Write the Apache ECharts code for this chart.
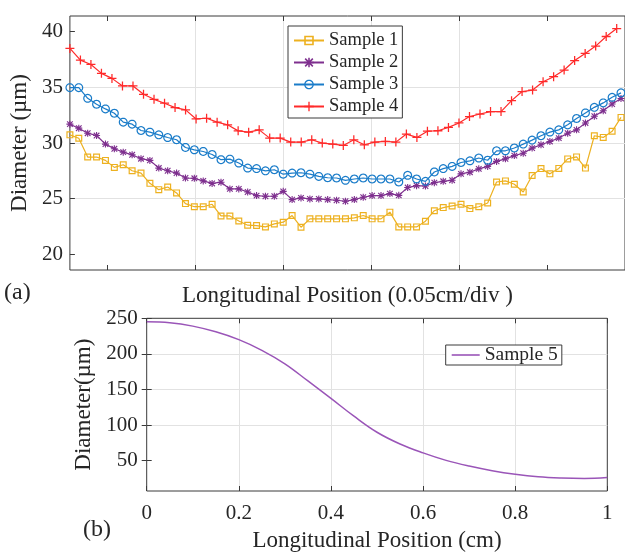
<!DOCTYPE html>
<html><head><meta charset="utf-8">
<script src="https://cdn.jsdelivr.net/npm/echarts@6/dist/echarts.min.js"></script>
<style>html,body{margin:0;padding:0;background:#fff}#c{width:625px;height:553px}</style>
</head><body><div id="c"></div>
<script>
// ---------- data ----------
const seriesNamesA = ['Sample 1', 'Sample 2', 'Sample 3', 'Sample 4'];
const sample1 = [30.73,30.43,28.74,28.74,28.44,27.81,28.05,27.51,27.30,26.38,
  25.81,26.05,25.52,24.56,24.28,24.28,24.50,23.45,23.45,23.00,
  22.62,22.59,22.47,22.74,22.89,23.49,22.44,23.19,23.19,23.19,
  23.19,23.19,23.28,23.49,23.19,23.19,23.79,22.47,22.47,22.47,
  22.98,23.92,24.20,24.35,24.50,24.11,24.28,24.62,26.50,26.60,
  26.30,25.60,27.08,27.70,27.23,27.72,28.57,28.75,27.75,30.65,
  30.50,31.05,32.30];
const sample2 = [31.69,31.33,30.88,30.67,29.90,29.48,29.18,28.94,28.59,28.44,
  27.75,27.51,27.30,26.86,26.83,26.60,26.37,26.48,25.88,25.88,
  25.60,25.28,25.22,25.22,25.66,24.92,25.07,24.98,24.98,24.92,
  24.86,24.77,24.92,25.13,25.28,25.28,25.46,25.30,26.00,26.17,
  26.14,26.44,26.56,26.66,27.23,27.38,27.68,27.90,28.35,28.58,
  28.87,29.08,29.54,29.84,30.14,30.44,30.88,31.18,31.80,32.40,
  32.90,33.50,34.00];
const sample3 = [34.97,34.97,34.01,33.48,33.06,32.67,31.87,31.69,31.12,30.97,
  30.73,30.49,30.29,29.60,29.39,29.24,28.97,28.50,28.55,28.20,
  27.75,27.70,27.50,27.60,27.20,27.30,27.33,27.20,27.00,26.88,
  26.86,26.65,26.77,26.86,26.77,26.77,26.77,26.50,27.10,26.77,
  26.56,27.40,27.70,27.90,28.25,28.40,28.65,28.45,29.30,29.30,
  29.55,29.90,30.26,30.65,30.98,31.18,31.63,32.20,32.70,33.20,
  33.60,34.10,34.50];
const sample4 = [38.49,37.44,37.05,36.25,35.80,35.12,35.12,34.37,33.92,33.57,
  33.18,32.97,32.16,32.22,31.87,31.63,31.09,30.97,31.18,30.44,
  30.44,30.08,30.08,30.29,29.99,29.90,29.78,30.29,29.84,30.08,
  30.14,30.08,30.80,30.50,31.06,31.10,31.40,31.80,32.37,32.60,
  32.82,32.82,33.80,34.62,34.75,35.50,35.95,36.55,37.40,38.04,
  38.70,39.56,40.27];
// sampling step of each series along the (unlabelled) position axis
const step123 = 1.0;
const step4 = 1.183;
const topXTicks = [4.2, 14.1, 24.0, 33.9, 43.8, 53.7];
const topYTicks = [20, 25, 30, 35, 40];

const seriesNameB = 'Sample 5';
const pos5 = [0,0.05,0.1,0.15,0.2,0.25,0.3,0.35,0.4,0.45,0.5,0.55,0.6,0.65,0.7,0.75,0.8,0.85,0.9,0.95,1.0];
const sample5 = [245,243.8,239,231,220,205,186,162,137.5,112.5,90,73.5,61,50.5,42.5,36,31,27.5,25.8,25.2,26.5];
const botYTicks = [50, 100, 150, 200, 250];

// ---------- styles ----------
const serif = "'Liberation Serif','Times New Roman',serif";
const txt = '#262626';
const colors = ['#EDB120', '#7E2F8E', '#1a7cc9', '#ff2a2a'];
const col5 = '#9a55b8';
const gridLine = {show: true, showMinLine: false, showMaxLine: false, lineStyle: {color: '#e2e2e2', width: 1}};

function ringPath(seg, rIn) {
  let s = 'path://';
  for (let i = 0; i <= seg; i++) {
    const a = 2 * Math.PI * i / seg;
    s += (i === 0 ? 'M' : 'L') + (5 + 5 * Math.cos(a)).toFixed(3) + ',' + (5 + 5 * Math.sin(a)).toFixed(3);
  }
  s += 'Z';
  for (let i = 0; i <= seg; i++) {
    const a = -2 * Math.PI * i / seg;
    s += (i === 0 ? 'M' : 'L') + (5 + rIn * Math.cos(a)).toFixed(3) + ',' + (5 + rIn * Math.sin(a)).toFixed(3);
  }
  return s + 'Z';
}
const symCircle = ringPath(24, 3.65);
const symSquare = 'path://M0,0H10V10H0ZM1.7,1.7V8.3H8.3V1.7Z';
const symPlus = 'path://M4.3,0H5.7V4.3H10V5.7H5.7V10H4.3V5.7H0V4.3H4.3Z';
const symAst = 'path://M4.2,0L5.8,0L5.8,10L4.2,10Z M0,4.2L10,4.2L10,5.8L0,5.8Z ' +
  'M1.57,0.43L9.57,8.43L8.43,9.57L0.43,1.57Z M8.43,0.43L9.57,1.57L1.57,9.57L0.43,8.43Z';

function tick(vals) {
  const t = {show: true, inside: true, length: 5, lineStyle: {color: '#3a3a3a', width: 1}};
  if (vals) t.customValues = vals;
  return t;
}
const nameStyle = {fontFamily: serif, fontSize: 23, color: txt};
const labStyle = {fontFamily: serif, fontSize: 21, color: txt};

const topMax = 62.45;

function lineSeries(name, vals, step, sym, size, color) {
  return {
    name, type: 'line', xAxisIndex: 0, yAxisIndex: 0,
    data: vals.map((v, i) => [i * step, v]),
    symbol: sym, symbolSize: size, showAllSymbol: true,
    lineStyle: {color, width: 1.2}, itemStyle: {color},
    emphasis: {disabled: true}, silent: true
  };
}

const option = {
  animation: false,
  backgroundColor: '#fff',
  grid: [
    {left: 69, top: 16, right: -9, bottom: 283, show: true, borderColor: '#3a3a3a', borderWidth: 1, backgroundColor: 'transparent'},
    {left: 146.7, top: 318.3, right: 17.7, bottom: 57, show: true, borderColor: '#3a3a3a', borderWidth: 1, backgroundColor: 'transparent'}
  ],
  xAxis: [
    {type: 'value', gridIndex: 0, min: 0, max: topMax, axisLine: {show: false},
     axisTick: tick(topXTicks), axisLabel: {show: false}, splitLine: gridLine,
     name: 'Longitudinal Position (0.05cm/div )', nameLocation: 'middle', nameGap: 14,
     nameTextStyle: nameStyle},
    {type: 'value', gridIndex: 0, position: 'top', min: 0, max: topMax, axisLine: {show: false},
     axisTick: tick(topXTicks), axisLabel: {show: false}, splitLine: {show: false}},
    {type: 'value', gridIndex: 1, min: 0, max: 1, interval: 0.2, axisLine: {show: false},
     axisTick: tick(), axisLabel: Object.assign({margin: 12}, labStyle), splitLine: gridLine,
     name: 'Longitudinal Position (cm)', nameLocation: 'middle', nameGap: 38, nameTextStyle: nameStyle},
    {type: 'value', gridIndex: 1, position: 'top', min: 0, max: 1, interval: 0.2, axisLine: {show: false},
     axisTick: tick(), axisLabel: {show: false}, splitLine: {show: false}}
  ],
  yAxis: [
    {type: 'value', gridIndex: 0, min: 18.6, max: 41.4, axisLine: {show: false},
     axisTick: tick(topYTicks), axisLabel: Object.assign({customValues: topYTicks, margin: 7}, labStyle),
     splitLine: gridLine,
     name: 'Diameter (µm)', nameLocation: 'middle', nameRotate: 90, nameGap: 34, nameTextStyle: nameStyle},
    {type: 'value', gridIndex: 1, min: 7.5, max: 250, axisLine: {show: false},
     axisTick: tick(botYTicks), axisLabel: Object.assign({customValues: botYTicks, margin: 9}, labStyle),
     splitLine: gridLine,
     name: 'Diameter(µm)', nameLocation: 'middle', nameRotate: 90, nameGap: 46, nameTextStyle: nameStyle},
    {type: 'value', gridIndex: 1, position: 'right', min: 7.5, max: 250, axisLine: {show: false},
     axisTick: tick(botYTicks), axisLabel: {show: false}, splitLine: {show: false}}
  ],
  legend: [
    {data: seriesNamesA, orient: 'vertical', left: 288, top: 26, padding: [5, 4, 2, 5],
     itemGap: 3, itemWidth: 30, itemHeight: 12,
     textStyle: {fontFamily: serif, fontSize: 18.5, color: txt, lineHeight: 18.7},
     borderColor: '#3a3a3a', borderWidth: 1, backgroundColor: '#fff', selectedMode: false},
    {data: [{name: seriesNameB, icon: 'rect'}], orient: 'vertical', left: 445.7, top: 345, padding: [0, 4, 0, 6],
     itemWidth: 28, itemHeight: 1.6,
     textStyle: {fontFamily: serif, fontSize: 19.5, color: txt, lineHeight: 17.7},
     borderColor: '#3a3a3a', borderWidth: 1, backgroundColor: '#fff', selectedMode: false}
  ],
  graphic: [
    {type: 'text', left: 4, top: 281, style: {text: '(a)', font: "24px 'Liberation Serif'", fill: txt}},
    {type: 'text', left: 83, top: 518, style: {text: '(b)', font: "24px 'Liberation Serif'", fill: txt}}
  ],
  series: [
    lineSeries(seriesNamesA[0], sample1, step123, symSquare, 7, colors[0]),
    lineSeries(seriesNamesA[1], sample2, step123, symAst, 7, colors[1]),
    lineSeries(seriesNamesA[2], sample3, step123, symCircle, 9, colors[2]),
    lineSeries(seriesNamesA[3], sample4, step4, symPlus, 9, colors[3]),
    {name: seriesNameB, type: 'line', xAxisIndex: 2, yAxisIndex: 1,
     data: pos5.map((p, i) => [p, sample5[i]]), smooth: 0.4, symbol: 'none',
     lineStyle: {color: col5, width: 1.5}, itemStyle: {color: col5},
     emphasis: {disabled: true}, silent: true}
  ]
};
const chart = echarts.init(document.getElementById('c'), null, {renderer: 'canvas'});
chart.setOption(option);
</script>
</body></html>
